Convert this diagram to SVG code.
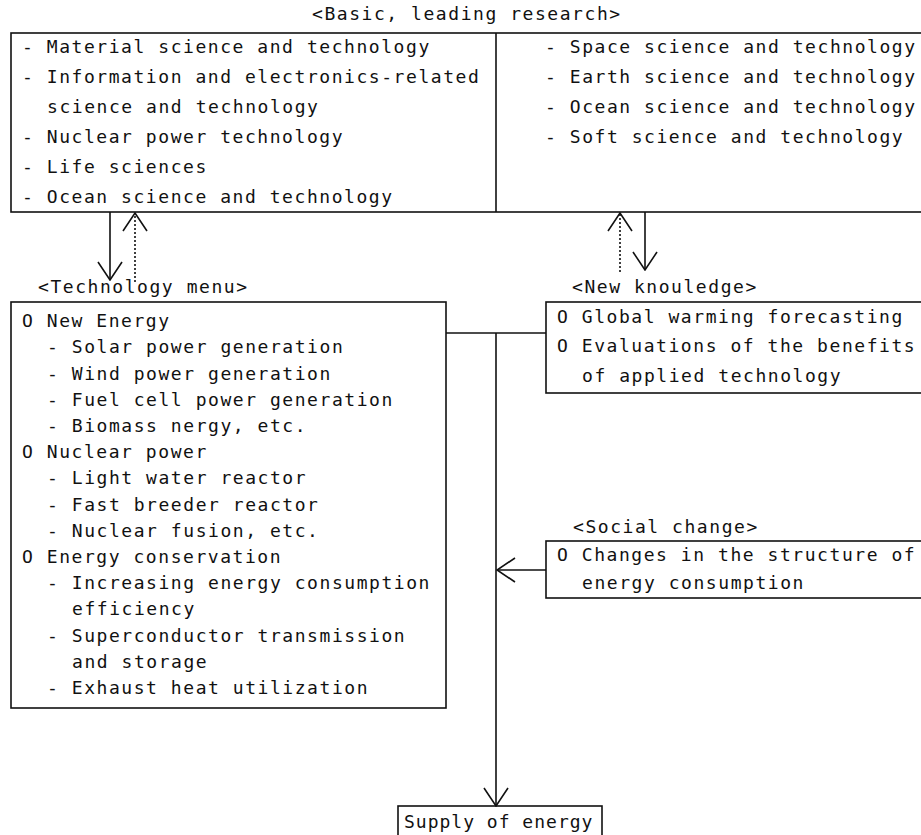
<svg xmlns="http://www.w3.org/2000/svg" width="921" height="835" viewBox="0 0 921 835">
<style>
.t{font-family:"DejaVu Sans Mono","Liberation Mono",monospace;font-size:18px;letter-spacing:1.55px;fill:#111}
.s{letter-spacing:1px}
.b{fill:#fff;stroke:#111;stroke-width:1.6}
.l{fill:none;stroke:#111;stroke-width:1.6}
.d{fill:none;stroke:#111;stroke-width:1.6;stroke-dasharray:2 2}
</style>
<defs>
<marker id="v" viewBox="0 0 20 26" refX="19" refY="13" markerWidth="20" markerHeight="26" markerUnits="userSpaceOnUse" orient="auto">
<path d="M1,1 L19,13 L1,25" fill="none" stroke="#111" stroke-width="1.6" stroke-dasharray="none"/>
</marker>
</defs>
<rect width="921" height="835" fill="#fff"/>

<g id="basic-research">
<text class="t" x="312" y="20">&lt;Basic, leading research&gt;</text>
<rect class="b" x="11" y="33" width="920" height="179"/>
<line class="l" x1="496" y1="33" x2="496" y2="212"/>
<text class="t" x="22" y="53">- Material science and technology</text>
<text class="t" x="22" y="83">- Information and electronics-related</text>
<text class="t" x="47" y="113">science and technology</text>
<text class="t" x="22" y="143">- Nuclear power technology</text>
<text class="t" x="22" y="173">- Life sciences</text>
<text class="t" x="22" y="203">- Ocean science and technology</text>
<text class="t" x="545" y="53">- Space science and technology</text>
<text class="t" x="545" y="83">- Earth science and technology</text>
<text class="t" x="545" y="113">- Ocean science and technology</text>
<text class="t" x="545" y="143">- Soft science and technology</text>
</g>

<g id="technology-menu">
<text class="t" x="38" y="293">&lt;Technology menu&gt;</text>
<rect class="b" x="11" y="302" width="435" height="406"/>
<text class="t" x="22" y="327">O New Energy</text>
<text class="t" x="47" y="353">- Solar power generation</text>
<text class="t" x="47" y="380">- Wind power generation</text>
<text class="t" x="47" y="406">- Fuel cell power generation</text>
<text class="t" x="47" y="432">- Biomass nergy, etc.</text>
<text class="t" x="22" y="458">O Nuclear power</text>
<text class="t" x="47" y="484">- Light water reactor</text>
<text class="t" x="47" y="511">- Fast breeder reactor</text>
<text class="t" x="47" y="537">- Nuclear fusion, etc.</text>
<text class="t" x="22" y="563">O Energy conservation</text>
<text class="t" x="47" y="589">- Increasing energy consumption</text>
<text class="t" x="72" y="615">efficiency</text>
<text class="t" x="47" y="642">- Superconductor transmission</text>
<text class="t" x="72" y="668">and storage</text>
<text class="t" x="47" y="694">- Exhaust heat utilization</text>
</g>

<g id="new-knowledge">
<text class="t" x="572" y="293">&lt;New knouledge&gt;</text>
<rect class="b" x="546" y="302" width="390" height="91"/>
<text class="t" x="557" y="323">O Global warming forecasting</text>
<text class="t" x="557" y="352">O Evaluations of the benefits</text>
<text class="t" x="582" y="382">of applied technology</text>
</g>

<g id="social-change">
<text class="t" x="573" y="533">&lt;Social change&gt;</text>
<rect class="b" x="546" y="541" width="390" height="57"/>
<text class="t" x="557" y="561">O Changes in the structure of</text>
<text class="t" x="582" y="589">energy consumption</text>
</g>

<g id="supply">
<rect class="b" x="398" y="806" width="204" height="40"/>
<text class="t s" x="404" y="828">Supply of energy</text>
</g>

<g id="connectors">
<line class="l" x1="110" y1="212" x2="110" y2="280" marker-end="url(#v)"/>
<line class="d" x1="135" y1="282" x2="135" y2="213" marker-end="url(#v)"/>
<line class="d" x1="620" y1="272" x2="620" y2="213" marker-end="url(#v)"/>
<line class="l" x1="645" y1="212" x2="645" y2="270" marker-end="url(#v)"/>
<line class="l" x1="446" y1="333" x2="546" y2="333"/>
<line class="l" x1="496" y1="333" x2="496" y2="806" marker-end="url(#v)"/>
<line class="l" x1="546" y1="570" x2="497" y2="570" marker-end="url(#v)"/>
</g>
</svg>
